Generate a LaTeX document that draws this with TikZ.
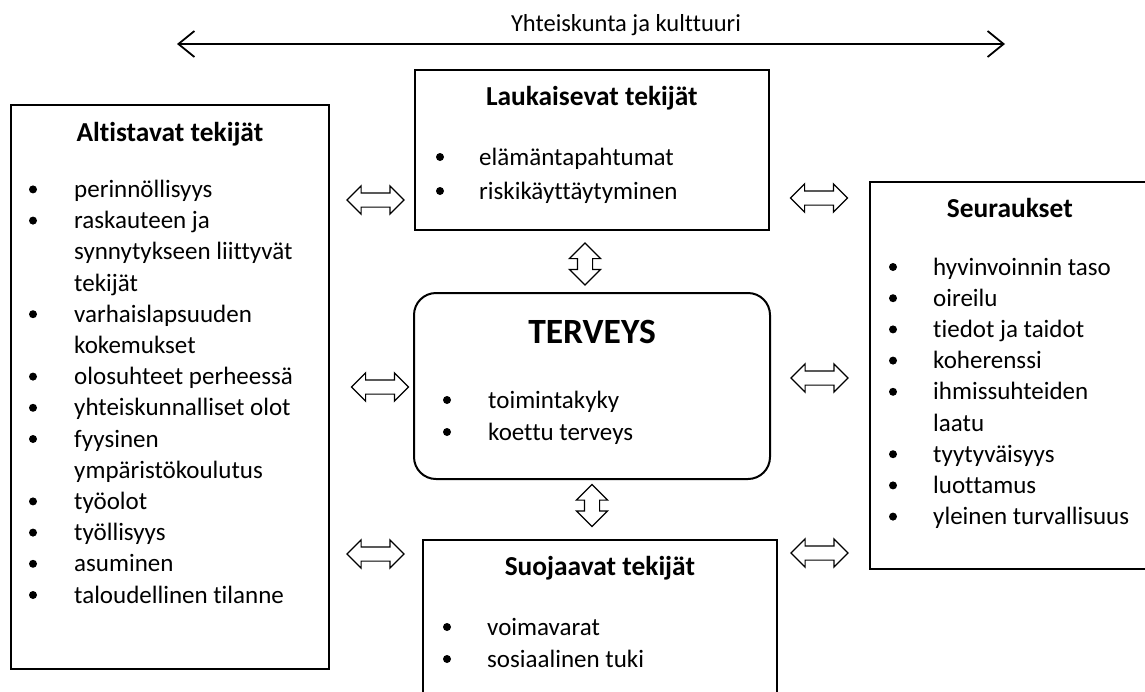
\documentclass[tikz,border=0pt]{standalone}
\usepackage{fontspec}
\setmainfont{Carlito}[Ligatures=NoCommon,RawFeature=-liga]
\usetikzlibrary{calc,arrows.meta,shapes.arrows}

% bullet list inside a box: #1 box, #2 bullet x, #3 text x, #4 first baseline, #5 line step, #6 entries (1 = bullet, 0 = continuation)
\newcommand\blist[6]{%
  \foreach [count=\i] \b/\t in {#6} {%
    \node[itemtext] (#1-\i) at ($(#1.north west)+(#3,{#4+#5*(\i-1)})$) {\t};
    \ifnum\b=1
      \fill ($(#1.north west)+(#2,{#4+#5*(\i-1)-8})$) circle[radius=4pt];
    \fi
  }%
}

\begin{document}
\begin{tikzpicture}[x=1pt,y=-1pt,
  box/.style={draw,line width=1.7pt,inner sep=0pt,anchor=north west},
  roundbox/.style={box,line width=2pt,rounded corners=22pt},
  heading/.style={font=\fontsize{27.4}{33}\selectfont\bfseries,anchor=base,inner sep=0pt},
  itemtext/.style={font=\fontsize{25}{31}\selectfont,anchor=base west,inner sep=0pt},
  hlink/.style={draw,line width=1.2pt,shape=double arrow,inner sep=0pt,inner ysep=6.5pt,
    double arrow head extend=7pt,minimum height=57pt,minimum width=27pt},
  vlink/.style={hlink,rotate=90,inner ysep=7pt,double arrow head extend=8pt,minimum height=42pt,minimum width=30pt},
]
\useasboundingbox (0,0) rectangle (1145,691);

% society and culture axis
\node[font=\fontsize{24.5}{29}\selectfont,anchor=base,inner sep=0pt] (soc) at (626,31) {Yhteiskunta ja kulttuuri};
\coordinate (socL) at (177,44);
\coordinate (socR) at (1005,44);
\draw[line width=1.8pt,{Straight Barb[length=16pt,width=26pt]}-{Straight Barb[length=16pt,width=26pt]}] (socL) -- (socR);

% boxes
\node[box,minimum width=318pt,minimum height=564pt] (alt) at (10,104) {};
\node[box,minimum width=354pt,minimum height=160pt] (lauk) at (414,69) {};
\node[box,minimum width=280pt,minimum height=387pt] (seur) at (869,181) {};
\node[roundbox,minimum width=356pt,minimum height=186pt] (terv) at (413,292) {};
\node[box,minimum width=354pt,minimum height=190pt] (suoj) at (422,539) {};

% headings
\node[heading] (altH) at ($(alt.north)+(0,37)$) {Altistavat tekijät};
\node[heading] (laukH) at ($(lauk.north)+(0,36)$) {Laukaisevat tekijät};
\node[heading] (seurH) at ($(seur.north)+(0,36)$) {Seuraukset};
\node[heading,font=\fontsize{35.5}{42}\selectfont\bfseries] (tervH) at ($(terv.north)+(0,51)$) {TERVEYS};
\node[heading] (suojH) at ($(suoj.north)+(0,36)$) {Suojaavat tekijät};

% lists
\blist{alt}{23}{64}{93.4}{31.2}{1/perinnöllisyys,1/raskauteen ja,0/synnytykseen liittyvät,0/tekijät,
  1/varhaislapsuuden,0/kokemukset,1/olosuhteet perheessä,1/yhteiskunnalliset olot,1/fyysinen,
  0/ympäristökoulutus,1/työolot,1/työllisyys,1/asuminen,1/taloudellinen tilanne}
\blist{lauk}{26}{65}{96}{34}{1/elämäntapahtumat,1/riskikäyttäytyminen}
\blist{seur}{24}{64}{94}{31.2}{1/hyvinvoinnin taso,1/oireilu,1/tiedot ja taidot,1/koherenssi,
  1/ihmissuhteiden,0/laatu,1/tyytyväisyys,1/luottamus,1/yleinen turvallisuus}
\blist{terv}{34}{75}{116}{32}{1/toimintakyky,1/koettu terveys}
\blist{suoj}{25}{65}{96}{32}{1/voimavarat,1/sosiaalinen tuki}

% two-way links between the boxes
\node[hlink] (alt-lauk) at (375.5,200) {};
\node[hlink] (alt-terv) at (380,387) {};
\node[hlink] (alt-suoj) at (375.5,554) {};
\node[hlink] (lauk-seur) at (819,198) {};
\node[hlink] (terv-seur) at (819.5,378) {};
\node[hlink] (suoj-seur) at (819.5,553) {};
\node[vlink] (lauk-terv) at (585,264) {};
\node[vlink] (terv-suoj) at (592,505.5) {};
\end{tikzpicture}
\end{document}
